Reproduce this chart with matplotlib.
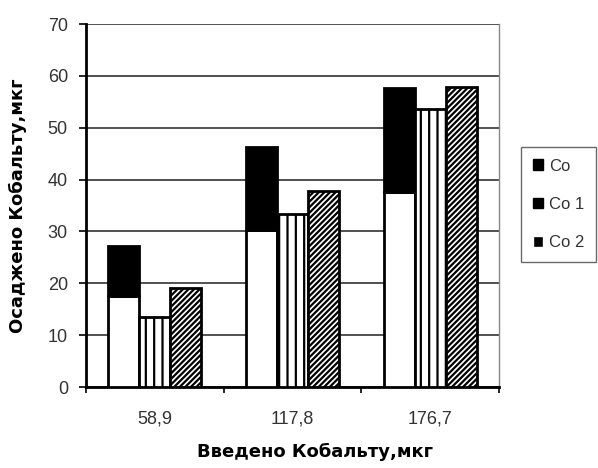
import numpy as np
import matplotlib.pyplot as plt
from matplotlib.patches import Patch

plt.rcParams['font.family'] = ['Liberation Sans', 'DejaVu Sans']
plt.rcParams['hatch.linewidth'] = 1.6

# data
groups = ['58,9', '117,8', '176,7']
co_total = [27.2, 46.2, 57.6]
co_light = [17.6, 30.2, 37.6]   # white lower part of the Co bar
co1 = [13.6, 33.4, 53.6]
co2 = [19.0, 37.8, 57.8]

fig = plt.figure(figsize=(5.98, 4.68), dpi=100)
ax = fig.add_axes([0.1438, 0.173, 0.6906, 0.7757])

x = np.arange(len(groups))
w = 0.225

co_dark = np.array(co_total) - np.array(co_light)
ax.bar(x - w, co_light, w, color='white', edgecolor='black', linewidth=2, zorder=3)
ax.bar(x - w, co_dark, w, bottom=co_light, color='black', edgecolor='black', linewidth=2, zorder=3)
ax.bar(x, co1, w, color='white', edgecolor='black', hatch='||', linewidth=2, zorder=3)
ax.bar(x + w, co2, w, color='white', edgecolor='black', hatch='//////', linewidth=2, zorder=3)

ax.set_ylim(0, 70)
ax.set_xlim(-0.5, 2.5)
ax.set_yticks(range(0, 71, 10))
ax.yaxis.grid(True, color='#222222', linewidth=1.1, zorder=0)
ax.set_axisbelow(True)

ax.set_xticks(x)
ax.set_xticklabels(groups, fontsize=13, color='#333333')
ax.set_xticks([-0.5, 0.5, 1.5, 2.5], minor=True)
ax.tick_params(axis='x', which='major', length=0, pad=17)
ax.tick_params(axis='x', which='minor', length=4, width=1.2, direction='out')
ax.tick_params(axis='y', length=5, width=1.2, labelsize=13, labelcolor='#333333', pad=8)

for s in ['left', 'bottom']:
    ax.spines[s].set_linewidth(2)
ax.spines['top'].set_visible(False)
ax.spines['right'].set_color('#888888')
ax.spines['right'].set_linewidth(1)

ax.set_ylabel('Осаджено Кобальту,мкг', fontsize=13, fontweight='bold',
              family=['DejaVu Sans'])
ax.yaxis.set_label_coords(-0.142, 0.5)
fig.text(0.527, 0.034, 'Введено Кобальту,мкг', fontsize=13, fontweight='bold',
         family=['DejaVu Sans'], ha='center', va='center')

handles = [Patch(facecolor='black', edgecolor='black', label='Co'),
           Patch(facecolor='black', edgecolor='black', hatch='|', label='Co 1'),
           Patch(facecolor='black', edgecolor='white', hatch='/', label='Co 2')]
leg = fig.legend(handles=handles, loc='upper left', bbox_to_anchor=(0.871, 0.686),
                 fontsize=12, frameon=True, fancybox=False, edgecolor='#444444',
                 handlelength=0.6, handleheight=0.6, handletextpad=0.4,
                 labelspacing=1.4, borderpad=0.7, borderaxespad=0)
leg.get_frame().set_linewidth(1)
for t in leg.get_texts():
    t.set_color('#333333')

fig.savefig('out.png', dpi=100)
